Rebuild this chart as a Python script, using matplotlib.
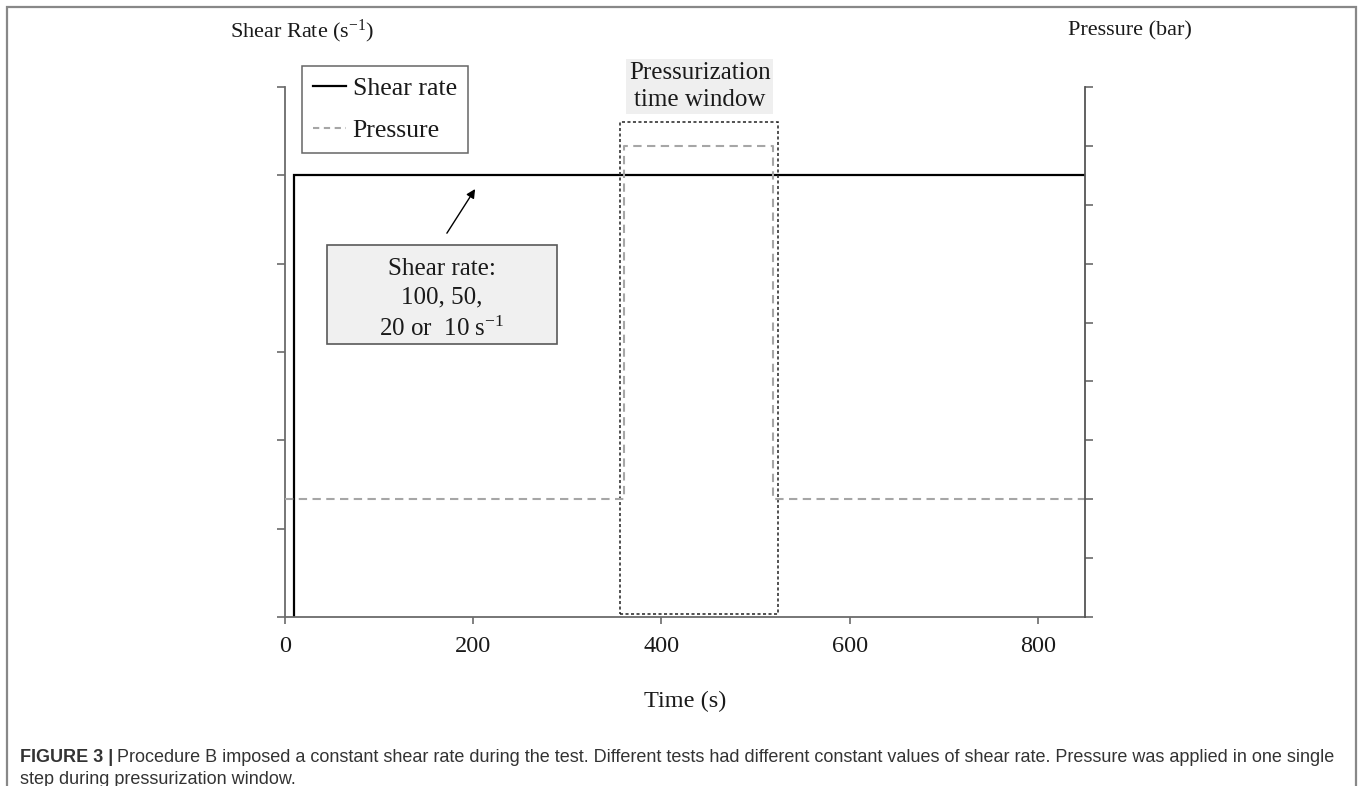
import matplotlib
matplotlib.use("Agg")
import matplotlib.pyplot as plt
from matplotlib.patches import Rectangle
from matplotlib.lines import Line2D

# ---- data ----
shear_time = [10, 10, 850]
shear_rate = [0, 100, 100]
pressure_time = [0, 360, 360, 519, 519, 850]
pressure = [2, 2, 8, 8, 2, 2]
x_ticks = [0, 200, 400, 600, 800]
left_ticks = [0, 20, 40, 60, 80, 100, 120]
right_ticks = [0, 1, 2, 3, 4, 5, 6, 7, 8, 9]
window_start, window_end = 356, 524
window_bottom, window_top = 0.7, 112

W, H = 1360, 786
plt.rcParams['mathtext.fontset'] = 'custom'
plt.rcParams['mathtext.rm'] = 'Liberation Serif'
plt.rcParams['mathtext.it'] = 'Liberation Serif:italic'
serif = 'Liberation Serif'
txt_col = '#1a1a1a'
ax_col = '#6b6b6b'

fig = plt.figure(figsize=(W / 100, H / 100), dpi=100)
fig.patch.set_facecolor('white')

def fx(px):
    return px / W

def fy(py):
    return 1 - py / H

ax = fig.add_axes([fx(285), fy(617), fx(1085) - fx(285), fy(87) - fy(617)])
ax2 = ax.twinx()

# shear rate
ax.plot(shear_time, shear_rate, color='black', lw=1.6, solid_joinstyle='miter')
ax.set_xlim(0, 850)
ax.set_ylim(0, 120)
ax.set_xticks(x_ticks)
ax.set_yticks(left_ticks)
ax.set_yticklabels([])
for s in ['top', 'right']:
    ax.spines[s].set_visible(False)
for s in ['left', 'bottom']:
    ax.spines[s].set_color(ax_col)
    ax.spines[s].set_linewidth(1.3)
ax.tick_params(axis='y', direction='out', length=6, width=1.2, color=ax_col)
ax.tick_params(axis='x', direction='out', length=5, width=1.2, color=ax_col,
               pad=9, labelsize=17.5, labelcolor=txt_col)
for lab in ax.get_xticklabels():
    lab.set_fontfamily(serif)

# pressure
ax2.plot(pressure_time, pressure, color='#a6a6a6', lw=1.5, linestyle=(0, (4, 2.6)))
ax2.set_ylim(0, 9)
ax2.set_yticks(right_ticks)
ax2.set_yticklabels([])
for s in ['top', 'left', 'bottom']:
    ax2.spines[s].set_visible(False)
ax2.spines['right'].set_color('#555555')
ax2.spines['right'].set_linewidth(1.3)
ax2.tick_params(axis='y', direction='out', length=6, width=1.2, color=ax_col)

# pressurization window box
rect = Rectangle((window_start, window_bottom), window_end - window_start,
                 window_top - window_bottom, fill=False, edgecolor='#222222',
                 lw=1.1, linestyle=(0, (2, 1.6)), zorder=5)
ax.add_patch(rect)
ax.text((window_start + window_end) / 2 + 0.5, 120.1, 'Pressurization\ntime window',
        ha='center', va='center', fontsize=18, family=serif, color=txt_col,
        linespacing=1.3, clip_on=False, zorder=6,
        bbox=dict(boxstyle='square,pad=0.12', facecolor='#efefef', edgecolor='none'))

# shear rate annotation box
bx0, bx1 = 44.6, 288.5
by0, by1 = 61.8, 84.2
ax.add_patch(Rectangle((bx0, by0), bx1 - bx0, by1 - by0, facecolor='#f0f0f0',
                       edgecolor='#595959', lw=1.2, zorder=4))
ax.text((bx0 + bx1) / 2, (by0 + by1) / 2 - 1.1,
        'Shear rate:\n100, 50,\n20 or  10 s$^{\\mathregular{-1}}$',
        ha='center', va='center', fontsize=18, family=serif, color=txt_col,
        linespacing=1.42, zorder=5)
ax.annotate('', xy=(202, 96.9), xytext=(172, 86.9),
            arrowprops=dict(arrowstyle='-|>', color='black', lw=1.0,
                            mutation_scale=13, shrinkA=0, shrinkB=0))

# legend
handles = [Line2D([], [], color='black', lw=1.6),
           Line2D([], [], color='#a6a6a6', lw=1.5, linestyle=(0, (3, 2.2)))]
leg = fig.legend(handles, ['Shear rate', 'Pressure'], loc='upper left',
                 bbox_to_anchor=(fx(302), fy(66)), bbox_transform=fig.transFigure,
                 prop={'family': serif, 'size': 18.5}, frameon=True, fancybox=False,
                 borderpad=0.42, handlelength=1.3, handletextpad=0.25,
                 labelspacing=0.75, borderaxespad=0)
leg.get_frame().set_edgecolor('#404040')
leg.get_frame().set_linewidth(1.1)
for t in leg.get_texts():
    t.set_color(txt_col)

# axis titles
fig.text(fx(302), fy(31), 'Shear Rate (s$^{\\mathregular{-1}}$)', ha='center', va='center',
         fontsize=16, family=serif, color=txt_col)
fig.text(fx(1130), fy(31), 'Pressure (bar)', ha='center', va='center',
         fontsize=16, family=serif, color=txt_col)
fig.text(fx(685), fy(701), 'Time (s)', ha='center', va='center',
         fontsize=17.5, family=serif, color=txt_col)

# outer frame
frame = Rectangle((fx(7), fy(H + 20)), fx(1356) - fx(7), fy(7) - fy(H + 20),
                  transform=fig.transFigure, fill=False, edgecolor='#888888',
                  lw=1.6, clip_on=False)
fig.patches.append(frame)

# caption
cap_col = '#333333'
renderer = fig.canvas.get_renderer()
t1 = fig.text(fx(20), fy(757), 'FIGURE 3 |', ha='left', va='center', fontsize=13,
              family='Liberation Sans', weight='bold', color=cap_col)
bb = t1.get_window_extent(renderer=renderer)
fig.text(bb.x1 / W + 4 / W, fy(757),
         'Procedure B imposed a constant shear rate during the test. Different tests had '
         'different constant values of shear rate. Pressure was applied in one single',
         ha='left', va='center', fontsize=13, family='Liberation Sans', color=cap_col)
fig.text(fx(20), fy(779), 'step during pressurization window.', ha='left', va='center',
         fontsize=13, family='Liberation Sans', color=cap_col)

fig.savefig('out.png', dpi=100)
